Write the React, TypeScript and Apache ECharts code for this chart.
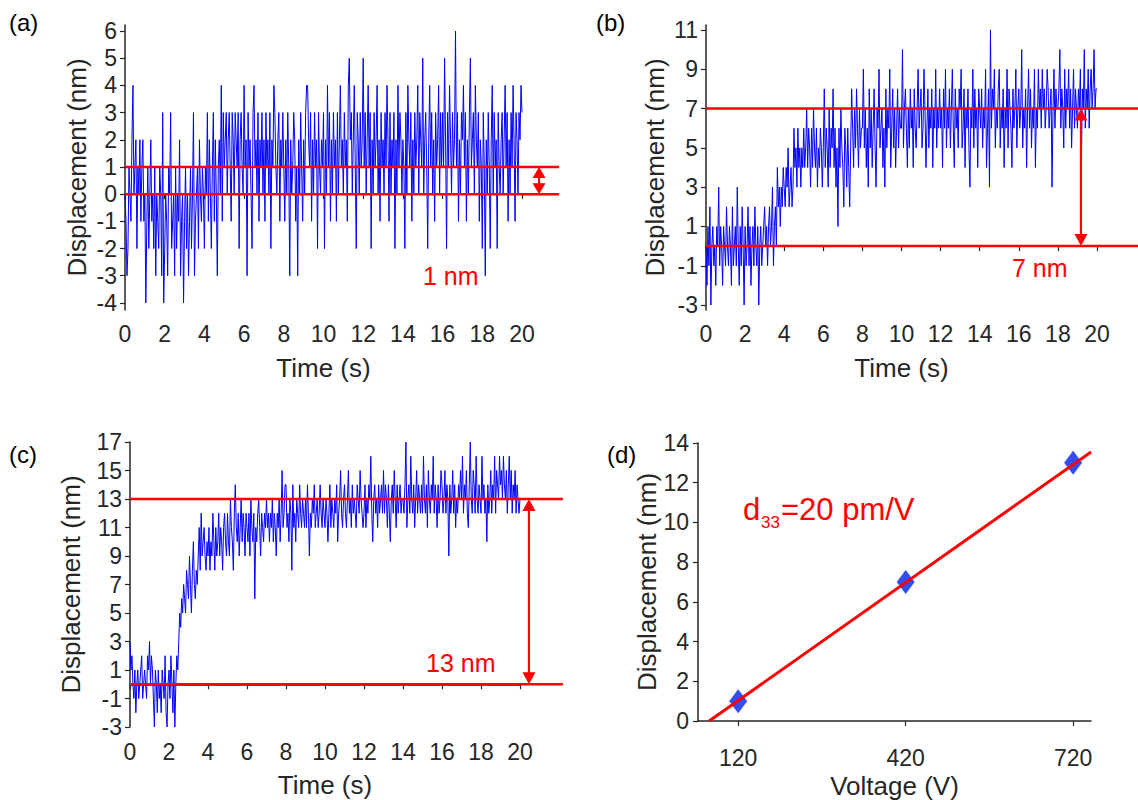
import React, { useEffect, useRef } from "react";
import * as echarts from "echarts";

// ---------- data ----------
const duration = 20; // s, recording length of panels (a)-(c)
// (a) displacement, nm (20 samples per second)
const dispA = [
  0, -1, -3, -2, 1, 0, -1, 2, 4, 0, 1, 2, -2, 1, 0, 2, -1, 1, 2, -1,
  0, -4, -1, 1, -2, 0, 2, -1, 0, -2, 1, -3, 0, -1, -2, 1, 0, -3, 3, -4,
  -2, 0, -1, -3, 1, 0, 3, -2, -1, 0, -3, 1, -2, 0, -1, 2, -3, -1, 0, -4,
  -1, 1, -2, 0, -3, -1, 1, -2, 0, 3, -3, -1, 0, 1, -2, 2, 0, -1, 1, 0,
  -2, 1, 0, 3, -1, 2, 0, -2, 1, 3, -1, 2, 0, -3, 1, 2, 0, 4, -1, 3,
  1, 2, 3, 0, 2, 3, 1, -1, 3, 2, 0, 3, 2, 1, 3, -2, 2, 3, 1, 0,
  4, 1, 2, -3, 3, 1, 2, 0, -2, 3, 4, 1, 2, 0, 3, -1, 2, 1, 3, 0,
  2, -1, 3, 1, 2, 0, 3, -2, 2, 1, 4, 3, 1, 0, 2, 3, -1, 2, 1, 3,
  1, -1, 2, 0, 3, 1, -3, 2, 0, 1, 3, 2, -1, 1, -3, 2, 0, 3, 1, -1,
  2, 0, 3, 4, 4, 2, 1, 3, -1, 2, 0, 3, 1, 2, -2, 3, 1, 0, 2, 1,
  3, -2, 2, 0, 4, 1, 3, -1, 2, 0, 3, 1, 2, -1, 3, 0, 2, 4, 1, 2,
  0, 3, 1, 2, -1, 4, 5, 2, 3, 0, 2, 4, 1, -2, 3, 2, 0, 3, 1, 2,
  5, 1, 3, 0, 2, 4, 1, 3, -2, 2, 0, 3, 1, 2, 4, 0, 2, -1, 3, 1,
  2, 0, 3, 1, 4, 2, -1, 3, 0, 2, 1, 3, -2, 2, 0, 4, 1, 3, 2, 0,
  2, 1, -2, 3, 0, 4, 2, 1, 3, -1, 2, 0, 3, 1, 2, 4, 0, 3, 2, 1,
  5, 0, 2, 3, 1, -2, 2, 4, 1, 3, 0, 2, -1, 3, 1, 2, 4, 0, 3, 1,
  3, 1, 5, 2, -2, 3, 1, 4, 2, 0, 3, 1, 2, 6, 1, 3, -1, 2, 0, 3,
  2, 4, 1, 3, -1, 2, 0, 3, 5, 1, 2, 3, 0, 4, 2, 1, 3, -1, 2, 1,
  -2, 3, 1, -3, 2, 0, 3, 1, -2, 2, 4, 0, 3, 1, 2, -2, 3, 1, 0, 2,
  3, 0, 2, 4, 1, 3, -1, 2, 0, 3, 1, 4, 2, -1, 3, 2, 0, 3, 2, 4,
  3,
];
// (b) displacement, nm
const dispB = [
  0, -2, 1, -1, 2, -3, 0, 1, -1, 0, -2, 1, 0, 3, -1, 1, 0, -2, 1, 0,
  -1, 2, 0, -1, 1, 0, -2, 2, -1, 0, 1, -1, 3, 0, -2, 1, -1, 2, 0, -3,
  1, -1, 0, 2, -1, 1, -2, 0, 1, -1, 2, 0, -1, 1, -3, 0, 1, -1, 0, 1,
  2, 0, 1, -1, 1, 2, 0, 1, 3, -1, 1, 2, 0, 4, 2, 3, 1, 3, 2, 4,
  3, 2, 4, 3, 5, 2, 3, 4, 2, 3, 6, 4, 5, 3, 6, 4, 5, 3, 5, 4,
  6, 4, 5, 7, 4, 6, 5, 3, 6, 4, 7, 5, 4, 6, 3, 5, 4, 6, 5, 3,
  5, 8, 4, 6, 5, 3, 7, 4, 6, 5, 8, 4, 6, 3, 5, 1, 6, 4, 7, 5,
  4, 2, 6, 5, 3, 6, 4, 2, 5, 8, 6, 4, 7, 5, 8, 6, 4, 7, 5, 6,
  6, 9, 5, 7, 4, 6, 3, 8, 5, 7, 4, 6, 8, 5, 3, 7, 6, 9, 5, 6,
  7, 4, 6, 3, 8, 5, 7, 6, 9, 4, 6, 8, 5, 7, 4, 6, 8, 5, 7, 6,
  6, 10, 5, 7, 8, 6, 4, 7, 5, 8, 6, 7, 4, 8, 6, 5, 7, 9, 6, 7,
  8, 5, 6, 9, 7, 4, 6, 8, 5, 7, 6, 8, 4, 7, 6, 9, 5, 7, 6, 8,
  6, 7, 4, 8, 6, 9, 5, 7, 6, 8, 5, 7, 9, 6, 4, 8, 6, 7, 5, 8,
  7, 9, 5, 6, 8, 4, 7, 6, 8, 5, 3, 7, 6, 9, 5, 8, 6, 7, 4, 8,
  7, 6, 8, 5, 7, 6, 9, 4, 6, 8, 3, 11, 6, 8, 7, 9, 5, 7, 6, 8,
  9, 5, 7, 6, 8, 4, 7, 6, 9, 5, 8, 7, 6, 4, 8, 6, 7, 9, 5, 7,
  8, 6, 7, 10, 5, 7, 6, 8, 4, 7, 9, 6, 8, 5, 7, 6, 9, 4, 7, 6,
  9, 7, 8, 6, 9, 7, 8, 6, 7, 9, 8, 6, 7, 8, 3, 7, 9, 6, 8, 7,
  7, 8, 10, 6, 8, 7, 5, 9, 6, 8, 7, 9, 6, 8, 5, 7, 9, 6, 8, 7,
  6, 8, 7, 9, 4, 8, 7, 10, 6, 8, 7, 9, 6, 8, 9, 7, 8, 10, 7, 8,
  8,
];
// (c) displacement, nm
const dispC = [
  3, 1, 2, 0, -1, 1, -2, 0, 1, -1, 0, 1, 2, -1, 0, 1, 0, -1, 2, 1,
  3, 0, 2, 1, -1, -3, 1, 0, -2, 1, -1, 0, -2, 1, 0, -1, 2, -2, -3, 0,
  1, -1, 2, 0, -2, 1, -3, 0, 2, 1, 3, 5, 4, 6, 5, 7, 6, 5, 8, 7,
  6, 9, 7, 5, 8, 10, 7, 6, 8, 7, 9, 11, 8, 12, 9, 10, 11, 9, 8, 10,
  9, 11, 8, 10, 9, 12, 10, 8, 11, 9, 10, 12, 9, 11, 10, 8, 11, 12, 10, 9,
  12, 10, 9, 13, 11, 10, 8, 12, 14, 11, 10, 12, 9, 11, 13, 10, 12, 11, 9, 12,
  11, 10, 12, 9, 13, 11, 10, 12, 6, 11, 10, 12, 13, 11, 9, 12, 11, 10, 12, 11,
  13, 11, 12, 10, 12, 11, 13, 10, 12, 11, 9, 12, 11, 13, 10, 12, 15, 11, 12, 14,
  14, 11, 12, 10, 13, 12, 8, 14, 11, 12, 10, 13, 12, 11, 14, 12, 11, 13, 12, 11,
  13, 11, 14, 12, 9, 12, 11, 13, 12, 14, 11, 12, 13, 11, 12, 14, 12, 11, 13, 12,
  11, 13, 12, 10, 12, 14, 11, 13, 12, 11, 13, 12, 14, 10, 12, 13, 15, 12, 11, 13,
  14, 12, 11, 13, 15, 12, 13, 11, 14, 12, 13, 12, 11, 14, 13, 12, 15, 13, 12, 11,
  12, 14, 11, 13, 12, 14, 13, 16, 12, 10, 13, 14, 12, 13, 11, 14, 12, 13, 14, 12,
  15, 12, 14, 13, 11, 14, 12, 10, 13, 14, 12, 15, 13, 11, 14, 12, 13, 14, 12, 13,
  13, 12, 14, 17, 11, 13, 14, 12, 16, 13, 12, 14, 11, 13, 15, 12, 14, 13, 12, 14,
  12, 16, 13, 12, 14, 11, 15, 13, 12, 14, 13, 16, 12, 14, 13, 11, 14, 12, 13, 15,
  14, 12, 13, 15, 12, 14, 13, 9, 14, 12, 13, 15, 12, 14, 11, 13, 12, 14, 13, 15,
  13, 16, 12, 14, 13, 15, 12, 11, 14, 17, 13, 12, 15, 14, 12, 16, 13, 12, 14, 13,
  12, 16, 13, 14, 12, 13, 10, 14, 12, 13, 15, 12, 14, 13, 16, 12, 15, 14, 13, 16,
  14, 15, 13, 16, 14, 13, 15, 12, 14, 16, 13, 15, 12, 14, 13, 15, 12, 14, 13, 12,
  13,
];
// (d) piezo response
const voltages = [120, 420, 720];
const dispD = [1, 7, 13];
const fitVoltage = [68, 752];
const fitDisp = [0, 13.55];

// reference levels and annotation positions (data units)
const levelsA = [1, 0];
const levelsB = [7, 0];
const levelsC = [13, 0];
const lineEndA = 21.87;
const lineEndB = 22.2;
const lineEndC = 22.2;
const arrowXA = 20.86;
const arrowXB = 19.18;
const arrowXC = 20.46;

const yTicksA = [-4, -3, -2, -1, 0, 1, 2, 3, 4, 5, 6];
const yTicksB = [-3, -1, 1, 3, 5, 7, 9, 11];

const FONT = '"Liberation Sans", Arial, Helvetica, sans-serif';
const AX = "#262626";
const RED = "#ff0000";
const BLUE = "#0000ff";

const toSeries = (vals: number[]) =>
  vals.map((v, i) => [(i * duration) / (vals.length - 1), v]);

function axisCommon() {
  return {
    type: "value" as const,
    nameLocation: "middle" as const,
    nameTextStyle: { color: AX, fontSize: 26, fontFamily: FONT },
    axisLine: { show: true, lineStyle: { color: AX, width: 1.5 } },
    axisTick: { show: true, length: 5, lineStyle: { color: AX, width: 1.2 } },
    axisLabel: { color: AX, fontSize: 23, fontFamily: FONT },
    splitLine: { show: false },
  };
}

function hLines(xi: number, levels: number[], xEnd: number) {
  return {
    type: "custom",
    xAxisIndex: xi,
    yAxisIndex: xi,
    clip: false,
    silent: true,
    z: 4,
    data: levels.map((l) => [xEnd, l]),
    renderItem: (_p: any, api: any) => {
      const a = api.coord([0, api.value(1)]);
      const b = api.coord([api.value(0), api.value(1)]);
      return {
        type: "line",
        shape: { x1: a[0], y1: a[1], x2: b[0], y2: b[1] },
        style: { stroke: RED, lineWidth: 2.5 },
      };
    },
  };
}

function arrow(xi: number, x: number, lo: number, hi: number, hh: number, hw: number) {
  return {
    type: "custom",
    xAxisIndex: xi,
    yAxisIndex: xi,
    clip: false,
    silent: true,
    z: 5,
    data: [[x, lo, hi]],
    renderItem: (_p: any, api: any) => {
      const xv = api.value(0);
      const p0 = api.coord([xv, api.value(1)]);
      const p1 = api.coord([xv, api.value(2)]);
      return {
        type: "group",
        children: [
          {
            type: "line",
            shape: { x1: p0[0], y1: p0[1] - hh + 1, x2: p1[0], y2: p1[1] + hh - 1 },
            style: { stroke: RED, lineWidth: 2.2 },
          },
          {
            type: "polygon",
            shape: { points: [[p1[0], p1[1]], [p1[0] - hw, p1[1] + hh], [p1[0] + hw, p1[1] + hh]] },
            style: { fill: RED },
          },
          {
            type: "polygon",
            shape: { points: [[p0[0], p0[1]], [p0[0] - hw, p0[1] - hh], [p0[0] + hw, p0[1] - hh]] },
            style: { fill: RED },
          },
        ],
      };
    },
  };
}

function trace(xi: number, vals: number[]) {
  return {
    type: "line",
    xAxisIndex: xi,
    yAxisIndex: xi,
    data: toSeries(vals),
    showSymbol: false,
    silent: true,
    z: 2,
    lineStyle: { color: BLUE, width: 1 },
  };
}

function txt(text: string, x: number, y: number, size: number, color: string) {
  return {
    type: "text",
    x,
    y,
    silent: true,
    style: {
      text,
      fill: color,
      fontSize: size,
      fontFamily: FONT,
      textAlign: "left",
      textVerticalAlign: "middle",
      verticalAlign: "middle",
    },
  };
}

export default function App() {
  const ref = useRef<HTMLDivElement>(null);
  useEffect(() => {
    if (!ref.current) return;
    const chart = echarts.init(ref.current, undefined, { renderer: "svg" });
    const c = axisCommon;
    const option: any = {
      animation: false,
      backgroundColor: "#ffffff",
      grid: [
        { left: 125, top: 25, width: 397, height: 285 },
        { left: 706, top: 25, width: 391, height: 285 },
        { left: 130, top: 442, width: 390, height: 285 },
        { left: 698, top: 443, width: 393, height: 284 },
      ],
      xAxis: [
        { ...c(), gridIndex: 0, min: 0, max: 20, interval: 2, name: "Time (s)", nameGap: 45, axisLabel: { ...c().axisLabel, margin: 12 } },
        { ...c(), gridIndex: 1, min: 0, max: 20, interval: 2, name: "Time (s)", nameGap: 45, axisLabel: { ...c().axisLabel, margin: 12 } },
        { ...c(), gridIndex: 2, min: 0, max: 20, interval: 2, name: "Time (s)", nameGap: 45, axisLabel: { ...c().axisLabel, margin: 13 } },
        {
          ...c(),
          gridIndex: 3,
          min: 48,
          max: 752,
          name: "Voltage (V)",
          nameGap: 52,
          axisTick: { ...c().axisTick, customValues: voltages },
          axisLabel: { ...c().axisLabel, customValues: voltages, margin: 25 },
        },
      ],
      yAxis: [
        {
          ...c(),
          gridIndex: 0,
          min: -4.26,
          max: 6.22,
          name: "Displacement (nm)",
          nameGap: 35,
          axisTick: { ...c().axisTick, customValues: yTicksA },
          axisLabel: { ...c().axisLabel, customValues: yTicksA, margin: 8 },
        },
        {
          ...c(),
          gridIndex: 1,
          min: -3.25,
          max: 11.25,
          name: "Displacement (nm)",
          nameGap: 38,
          axisTick: { ...c().axisTick, customValues: yTicksB },
          axisLabel: { ...c().axisLabel, customValues: yTicksB, margin: 8 },
        },
        { ...c(), gridIndex: 2, min: -3, max: 17, interval: 2, name: "Displacement (nm)", nameGap: 46, axisLabel: { ...c().axisLabel, margin: 8 } },
        { ...c(), gridIndex: 3, min: 0, max: 14, interval: 2, name: "Displacement (nm)", nameGap: 36, axisLabel: { ...c().axisLabel, margin: 9 } },
      ],
      series: [
        trace(0, dispA),
        hLines(0, levelsA, lineEndA),
        arrow(0, arrowXA, levelsA[1], levelsA[0], 11, 6.5),
        trace(1, dispB),
        hLines(1, levelsB, lineEndB),
        arrow(1, arrowXB, levelsB[1], levelsB[0], 12, 6.5),
        trace(2, dispC),
        hLines(2, levelsC, lineEndC),
        arrow(2, arrowXC, levelsC[1], levelsC[0], 12, 6.5),
        {
          type: "scatter",
          xAxisIndex: 3,
          yAxisIndex: 3,
          data: voltages.map((v, i) => [v, dispD[i]]),
          symbol: "diamond",
          symbolSize: [18, 24],
          itemStyle: { color: "#0022ee" },
          silent: true,
          z: 2,
        },
        {
          type: "line",
          xAxisIndex: 3,
          yAxisIndex: 3,
          data: fitVoltage.map((v, i) => [v, fitDisp[i]]),
          showSymbol: false,
          clip: false,
          silent: true,
          z: 4,
          lineStyle: { color: RED, width: 3 },
        },
      ],
      graphic: {
        elements: [
          txt("(a)", 9, 22, 24, "#000"),
          txt("(b)", 596, 22, 24, "#000"),
          txt("(c)", 9, 454, 24, "#000"),
          txt("(d)", 607, 454, 24, "#000"),
          txt("1 nm", 423, 276, 25, RED),
          txt("7 nm", 1012, 268, 25, RED),
          txt("13 nm", 426, 663, 25, RED),
          txt("d", 743, 509, 31, RED),
          txt("33", 761, 522, 17, RED),
          txt("=20 pm/V", 781, 509, 31, RED),
        ],
      },
    };
    chart.setOption(option);
    return () => chart.dispose();
  }, []);
  return (
    <div
      ref={ref}
      style={{ position: "absolute", left: 0, top: 0, width: 1138, height: 800, background: "#fff" }}
    />
  );
}
